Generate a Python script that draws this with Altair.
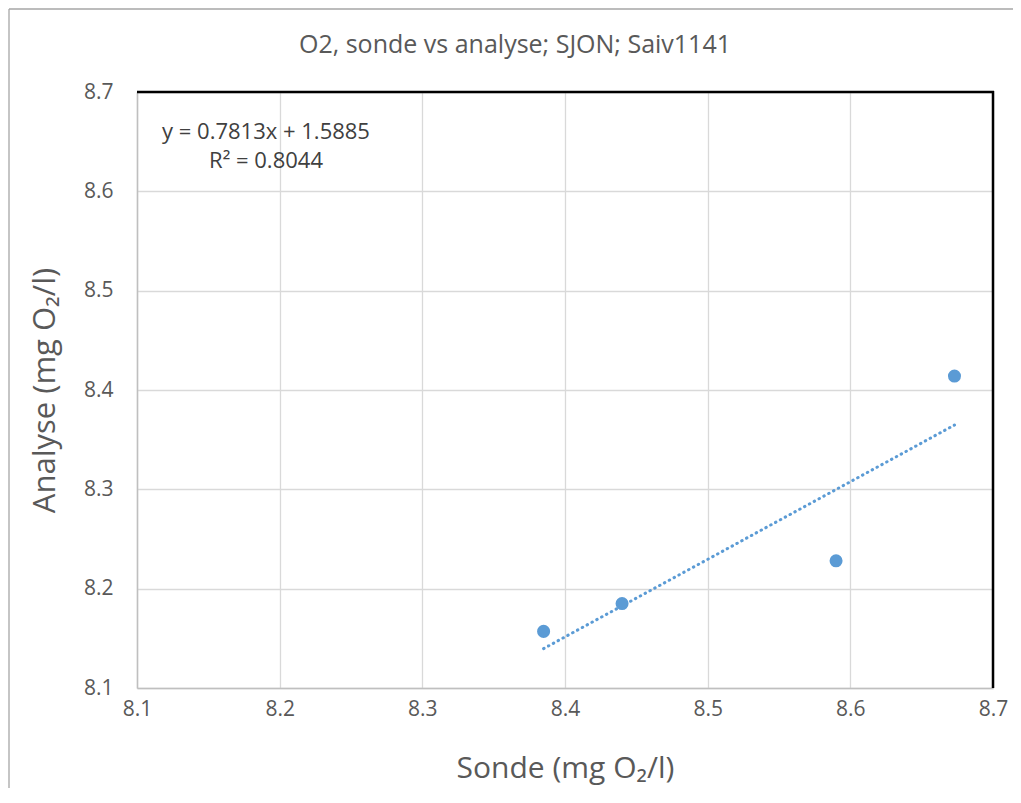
import altair as alt
import pandas as pd

# Data
sonde = [8.385, 8.440, 8.590, 8.673]
analyse = [8.157, 8.185, 8.228, 8.414]
slope = 0.7813
intercept = 1.5885
r2 = 0.8044
ticks = [8.1, 8.2, 8.3, 8.4, 8.5, 8.6, 8.7]
title_text = "O2, sonde vs analyse; SJON; Saiv1141"
x_title = "Sonde (mg O₂/l)"
y_title = "Analyse (mg O₂/l)"

FONT = "Open Sans"
W, H = 856, 596
BLUE = "#5B9BD5"
GREY = "#595959"

pts = pd.DataFrame({"sonde": sonde, "analyse": analyse})
xs = [min(sonde), max(sonde)]
trend = pd.DataFrame({"sonde": xs, "analyse": [slope * v + intercept for v in xs]})

xscale = alt.Scale(domain=[ticks[0], ticks[-1]], nice=False, zero=False)
yscale = alt.Scale(domain=[ticks[0], ticks[-1]], nice=False, zero=False)

xaxis = alt.Axis(values=ticks, format=".1f", title=x_title, grid=True,
                 labelPadding=10, labelFlush=False, labelFontSize=21,
                 titleY=80, titleBaseline="middle",
                 titleFontSize=30, titleFontWeight="normal")
yaxis = alt.Axis(values=ticks, format=".1f", title=y_title, grid=True,
                 labelPadding=24, labelFlush=False, labelFontSize=21,
                 titleX=-92, titleY=H / 2, titleAngle=-90,
                 titleAlign="center", titleBaseline="middle",
                 titleFontSize=31, titleFontWeight="normal")

points = alt.Chart(pts).mark_circle(size=170, color=BLUE, opacity=1).encode(
    x=alt.X("sonde:Q", scale=xscale, axis=xaxis),
    y=alt.Y("analyse:Q", scale=yscale, axis=yaxis),
)

trendline = alt.Chart(trend).mark_line(
    color=BLUE, strokeWidth=3, strokeDash=[0.5, 5], strokeCap="round"
).encode(
    x=alt.X("sonde:Q", scale=xscale),
    y=alt.Y("analyse:Q", scale=yscale),
)

one = alt.Data(values=[{}])
top_rule = alt.Chart(one).mark_rule(color="black", strokeWidth=2.5).encode(
    x=alt.value(0), x2=alt.value(W + 1), y=alt.value(0))
right_rule = alt.Chart(one).mark_rule(color="black", strokeWidth=2.5).encode(
    x=alt.value(W), x2=alt.value(W), y=alt.value(-1), y2=alt.value(H))

frame_top = alt.Chart(one).mark_rule(color="#A6A6A6", strokeWidth=1.3).encode(
    x=alt.value(-128), x2=alt.value(W + 40), y=alt.value(-83))
frame_left = alt.Chart(one).mark_rule(color="#A6A6A6", strokeWidth=1.3).encode(
    x=alt.value(-128), y=alt.value(-83), y2=alt.value(H + 120))

title_mark = alt.Chart(one).mark_text(
    font=FONT, fontSize=25, color=GREY, align="center", baseline="middle",
).encode(x=alt.value(378), y=alt.value(-47), text=alt.value(title_text))

eq = alt.Chart(one).mark_text(
    font=FONT, fontSize=22, color="#404040", align="center", baseline="middle",
    lineBreak="\n", lineHeight=29,
).encode(
    x=alt.value(129), y=alt.value(40),
    text=alt.value(f"y = {slope}x + {intercept}\nR² = {r2}"),
)

chart = alt.layer(frame_top, frame_left, trendline, points, top_rule, right_rule,
                  eq, title_mark).properties(
    width=W, height=H,
    autosize=alt.AutoSizeParams(type="none"),
    padding={"left": 129, "top": 84, "right": 20, "bottom": 100},
    background="white",
).configure_view(strokeWidth=0).configure_axis(
    labelFont=FONT, labelColor=GREY,
    titleFont=FONT, titleColor=GREY,
    gridColor="#D9D9D9", gridWidth=1.3,
    domainColor="#BFBFBF", domainWidth=1.5, ticks=False,
)

chart.save("out.html", embed_options={"renderer": "svg", "actions": False})
